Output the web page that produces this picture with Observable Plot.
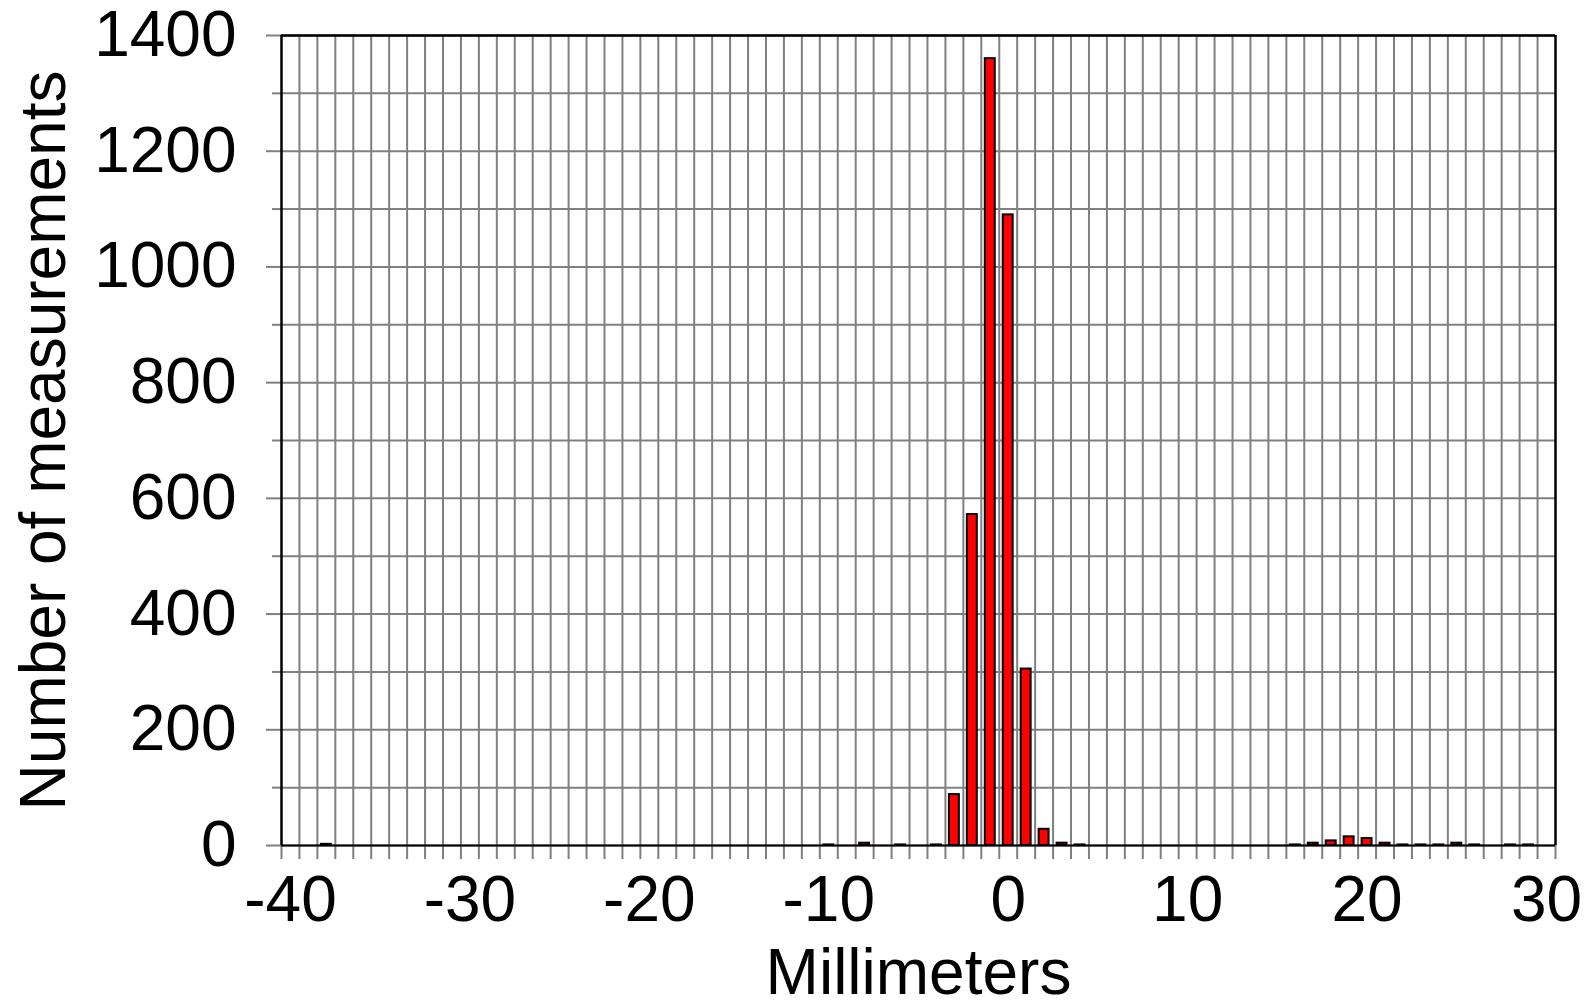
<!DOCTYPE html>
<html><head><meta charset="utf-8">
<script src="https://cdn.jsdelivr.net/npm/d3@7"></script>
<script src="https://cdn.jsdelivr.net/npm/@observablehq/plot@0.6"></script>
<style>html,body{margin:0;padding:0;background:#fff;overflow:hidden}</style>
</head><body><div id="chart"></div>
<script>
// Histogram bins (millimeters) that hold measurements, and their counts
const binMm    = [-38, -10, -8, -6, -4, -3,  -2,   -1,    0,   1,  2, 3, 4, 16, 17, 18, 19, 20, 21, 22, 23, 24, 25, 26, 28, 29];
const binCount = [  2,   1,  4,  1,  1, 88, 572, 1360, 1090, 305, 28, 4, 1,  1,  4,  8, 15, 12,  4,  1,  1,  1,  4,  1,  1,  1];
// Category slots along the x axis (one per millimeter, -40 .. 30)
const categories = d3.range(-40, 31);
const xTickLabels = [-40, -30, -20, -10, 0, 10, 20, 30];
const yMajorTicks = [0, 200, 400, 600, 800, 1000, 1200, 1400];
const yMinorTicks = [100, 300, 500, 700, 900, 1100, 1300];
const xTitle = "Millimeters";
const yTitle = "Number of measurements";

const data = binMm.map((m, i) => ({mm: m, count: binCount[i]}));
const boundaries = categories.map(c => c - 0.5).concat([categories[categories.length - 1] + 0.5]);
const gray = "#808080";

const chart = Plot.plot({
  width: 1592, height: 1003,
  marginLeft: 281, marginRight: 37, marginTop: 35, marginBottom: 158,
  style: {fontFamily: "'Liberation Sans', Arial, sans-serif", background: "#fff", color: "#000"},
  x: {domain: [boundaries[0], boundaries[boundaries.length - 1]]},
  y: {domain: [0, 1400]},
  marks: [
    Plot.ruleY(yMajorTicks.concat(yMinorTicks), {stroke: gray, strokeWidth: 2}),
    Plot.ruleX(boundaries.slice(1, -1), {stroke: gray, strokeWidth: 2}),
    Plot.axisX(boundaries, {tickSize: 14, tickFormat: () => "", stroke: gray, strokeWidth: 2, label: null}),
    Plot.axisX(xTickLabels, {tickSize: 0, tickPadding: 30, fontSize: 64, label: null, tickFormat: d => String(d)}),
    Plot.axisY(yMajorTicks, {tickSize: 15, tickPadding: 30, fontSize: 64, stroke: gray, strokeWidth: 2, label: null, tickFormat: d => String(d)}),
    Plot.axisY(yMinorTicks, {tickSize: 9, tickFormat: () => "", stroke: gray, strokeWidth: 2, label: null}),
    Plot.ruleX([boundaries[0], boundaries[boundaries.length - 1]], {stroke: "#000", strokeWidth: 2.5}),
    Plot.ruleY([1400], {stroke: "#000", strokeWidth: 2.5}),
    Plot.ruleY([0], {stroke: "#000", strokeWidth: 2}),
    Plot.rectY(data, {x1: d => d.mm - 0.5, x2: d => d.mm + 0.5, y: "count", insetLeft: 4, insetRight: 4,
                      fill: "#ff0000", stroke: "#000", strokeWidth: 2}),
    Plot.text([yTitle], {text: d => d, frameAnchor: "left", dx: -237, rotate: -90, fontSize: 64,
                         textAnchor: "middle", lineAnchor: "middle", fill: "#000"}),
    Plot.text([xTitle], {text: d => d, frameAnchor: "bottom", dy: 128, fontSize: 64,
                         textAnchor: "middle", lineAnchor: "middle", fill: "#000"})
  ]
});
document.getElementById("chart").appendChild(chart);
</script>
</body></html>
